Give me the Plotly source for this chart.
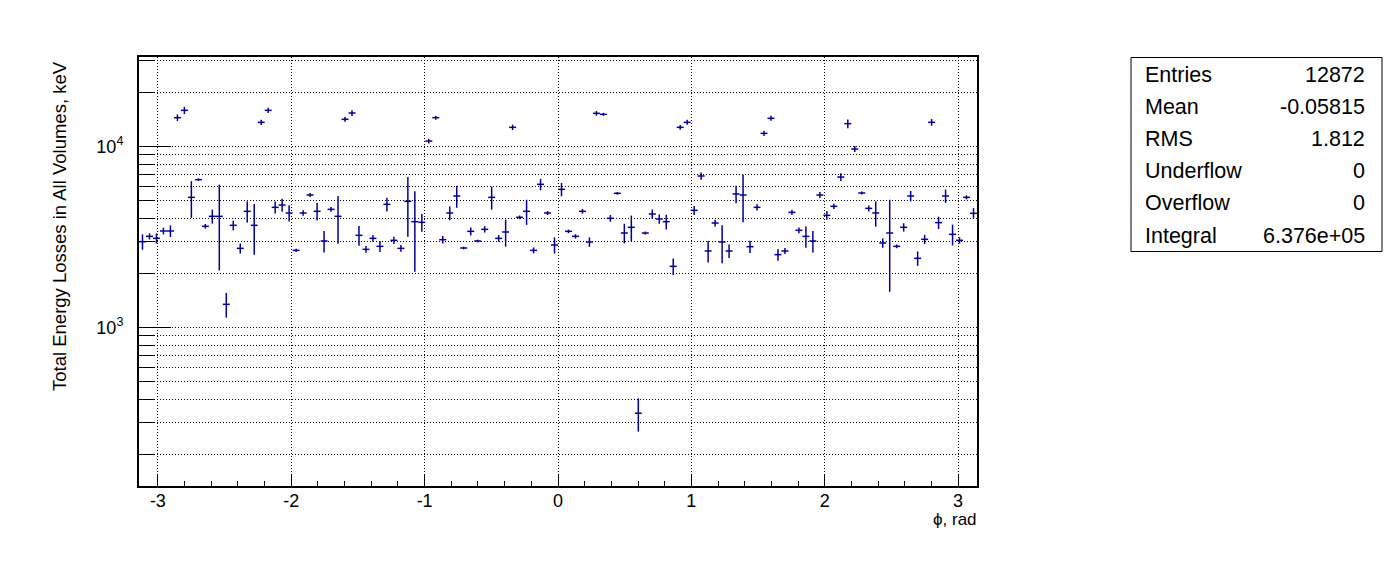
import math
import plotly.graph_objects as go

# ---- data (120 bins in phi from -pi to pi) ----
energy_kev = [
    2980, 3189, 3109, 3414, 3414, 14430, 15840, 5237, 6558, 3623,
    4114, 4114, 1343, 3669, 2737, 4384, 3669, 13600, 15840, 4612,
    4751, 4292, 2669, 4292, 5396, 4384, 3006, 4496, 4114, 14130,
    15310, 3230, 2703, 3109, 2808, 4791, 3031, 2737, 4978, 3843,
    3811, 10720, 14430, 3057, 4292, 5328, 2749, 3399, 3006, 3487,
    5237, 3109, 3370, 12760, 4062, 4384, 2669, 6180, 4292, 2856,
    5799, 3399, 3189, 4384, 2968, 15250, 15060, 4011, 5511, 3327,
    3577, 336, 3327, 4238, 3977, 3843, 2177, 12760, 13600, 4440,
    6871, 2647, 3779, 2968, 2647, 5465, 5396, 2796, 4612, 11820,
    14310, 2526, 2647, 4328, 3443, 3189, 3006, 5396, 4166, 4671,
    6783, 13370, 9687, 5535, 4553, 4292, 2930, 3327, 2808, 3577,
    5328, 2411, 3070, 13600, 3796, 5328, 3271, 3031, 5237, 4274,
]
energy_err = [
    290, 122, 198, 145, 253, 612, 739, 1201, 111, 108,
    366, 2047, 209, 226, 174, 580, 1148, 461, 537, 352,
    393, 446, 57, 146, 137, 483, 412, 133, 1212, 419,
    551, 403, 115, 132, 197, 416, 141, 116, 1810, 1808,
    427, 318, 367, 143, 373, 739, 47, 173, 51, 140,
    757, 132, 571, 433, 95, 694, 102, 445, 109, 291,
    492, 79, 88, 130, 176, 453, 287, 170, 94, 413,
    576, 70, 64, 252, 236, 359, 226, 379, 432, 254,
    320, 362, 160, 707, 224, 609, 1582, 219, 186, 401,
    455, 187, 101, 147, 131, 427, 412, 206, 230, 158,
    331, 737, 370, 106, 174, 686, 174, 1752, 65, 190,
    361, 220, 182, 577, 298, 452, 430, 122, 133, 290,
]
x_min, x_max = -math.pi, math.pi

x_ticks = [-3, -2, -1, 0, 1, 2, 3]
x_tick_text = ["-3", "-2", "-1", "0", "1", "2", "3"]

stat_names = ["Entries", "Mean", "RMS", "Underflow", "Overflow", "Integral"]
stat_values = ["12872", "-0.05815", "1.812", "0", "0", "6.376e+05"]

y_major = [1000, 10000]
y_major_text = ["10<sup>3</sup>", "10<sup>4</sup>"]
y_minor = [200, 300, 400, 500, 600, 700, 800, 900,
           2000, 3000, 4000, 5000, 6000, 7000, 8000, 9000, 20000, 30000]

# ---- bins ----
n_bins = len(energy_kev)
bw = (x_max - x_min) / n_bins
phi = [x_min + (i + 0.5) * bw for i in range(n_bins)]

COL = "#000099"
FONT = "Liberation Sans, Arial, Helvetica, sans-serif"

fig = go.Figure()
fig.add_trace(go.Scatter(
    x=phi, y=energy_kev, mode="markers",
    marker=dict(size=0, color=COL, opacity=0),
    error_y=dict(type="data", array=energy_err, visible=True, width=0,
                 thickness=1.5, color=COL),
    error_x=dict(type="constant", value=bw / 2, visible=True, width=0,
                 thickness=1.5, color=COL),
    showlegend=False, hoverinfo="x+y",
))

W, H = 1396, 572
L, R, T, B = 139, 1396 - 977, 57, 572 - 486
pw, ph = W - L - R, H - T - B

def px_x(p):
    return (p - L) / pw

def px_y(p):
    return (H - B - p) / ph

# stats box
fig.add_shape(type="rect", xref="paper", yref="paper",
              x0=px_x(1131), x1=px_x(1382), y0=px_y(251.5), y1=px_y(57.5),
              line=dict(color="black", width=1), fillcolor="white")
row_h = 32.2
for k, (nm, vl) in enumerate(zip(stat_names, stat_values)):
    yc = px_y(58.5 + (k + 0.5) * row_h)
    fig.add_annotation(x=px_x(1143), y=yc, xref="paper", yref="paper",
                       text=nm, showarrow=False, xanchor="left", yanchor="middle",
                       font=dict(family=FONT, size=21.5, color="black"))
    fig.add_annotation(x=px_x(1367), y=yc, xref="paper", yref="paper",
                       text=vl, showarrow=False, xanchor="right", yanchor="middle",
                       font=dict(family=FONT, size=21.5, color="black"))

# axis titles
fig.add_annotation(x=px_x(60), y=px_y(59), xref="paper", yref="paper",
                   text="Total Energy Losses in All Volumes, keV", textangle=-90,
                   showarrow=False, xanchor="center", yanchor="top",
                   font=dict(family=FONT, size=18.5, color="black"))
fig.add_annotation(x=px_x(979), y=px_y(519), xref="paper", yref="paper",
                   text="\u03d5, rad", showarrow=False, xanchor="right", yanchor="middle",
                   font=dict(family=FONT, size=17, color="black"))

fig.update_layout(
    width=W, height=H,
    margin=dict(l=L, r=R, t=T, b=B, pad=0),
    paper_bgcolor="white", plot_bgcolor="white",
    font=dict(family=FONT, size=17, color="black"),
    xaxis=dict(
        range=[x_min, x_max], tickmode="array", tickvals=x_ticks, ticktext=x_tick_text,
        ticks="inside", ticklen=12, tickwidth=1, tickcolor="black",
        showline=True, linecolor="black", linewidth=2, mirror=True,
        showgrid=True, gridcolor="black", gridwidth=1, griddash="1px,2px",
        zeroline=False, tickfont=dict(size=18), ticklabelstandoff=-3,
        minor=dict(dtick=0.2, tick0=0, ticks="inside", ticklen=5,
                   tickcolor="black", showgrid=False),
    ),
    yaxis=dict(
        type="log", range=[2.1243, 4.4945],
        tickmode="array", tickvals=y_major, ticktext=y_major_text,
        ticks="inside", ticklen=32, tickwidth=1, tickcolor="black",
        showline=True, linecolor="black", linewidth=2, mirror=True,
        showgrid=True, gridcolor="black", gridwidth=1, griddash="1px,2px",
        zeroline=False, tickfont=dict(size=18), ticklabelstandoff=10,
        minor=dict(tickmode="array", tickvals=y_minor, ticks="inside", ticklen=16,
                   tickcolor="black", showgrid=True, gridcolor="black",
                   gridwidth=1, griddash="1px,2px"),
    ),
)

fig.write_html("out.html", config={"displayModeBar": False},
               post_script="document.body.style.margin='0';")
